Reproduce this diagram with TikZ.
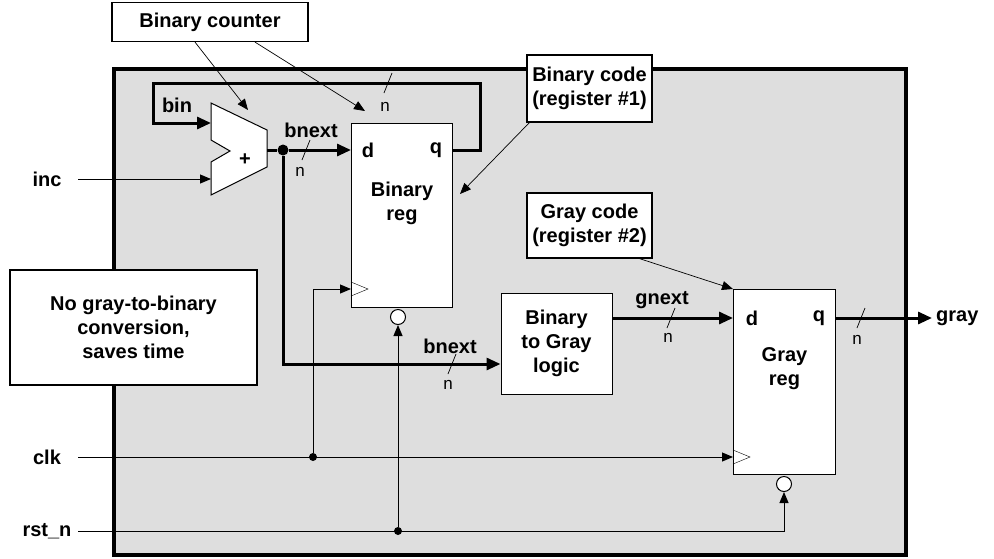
\documentclass[tikz,border=0pt]{standalone}
\usepackage{fontspec}
\setmainfont{Liberation Sans}
\usetikzlibrary{calc,arrows.meta,positioning}

\tikzset{
  txt/.style={font=\fontsize{20}{24}\selectfont\bfseries, inner sep=1pt},
  small/.style={font=\fontsize{17}{19}\selectfont, inner sep=1pt},
  note/.style={draw, fill=white, line width=1.2pt, align=center, txt, inner sep=4pt},
  reg/.style={draw, fill=white, line width=1pt, anchor=north west, minimum width=#1, inner sep=0pt},
  bus/.style={line width=3pt, -{Triangle[length=14pt,width=12pt]}},
  sig/.style={line width=1pt, -{Triangle[length=11pt,width=9pt]}},
  ptr/.style={line width=0.7pt, -{Triangle[length=11pt,width=9pt]}},
  slash/.style={line width=0.7pt},
  dot/.style={circle, fill=black, inner sep=0pt, minimum size=#1},
  bubble/.style={circle, draw, line width=1pt, fill=white, inner sep=0pt, minimum size=15pt}
}

\begin{document}
\begin{tikzpicture}[x=1pt,y=-1pt]
  \useasboundingbox (0,0) rectangle (994,558);

  %% Panel
  \draw[fill=black!13, line width=3.5pt] (114,69) rectangle (906,555);

  %% Registers and logic
  \node[reg=101pt, minimum height=184pt] (BREG) at (351,123) {};
  \node[reg=102pt, minimum height=185pt] (GREG) at (733,289) {};
  \node[draw, fill=white, line width=1pt, minimum width=111pt, minimum height=101pt,
    align=center, txt] (B2G) at (556.5,343.5) {Binary\\to Gray\\logic};
  \node[txt] at ($(BREG.north west)+(17,27)$) {d};
  \node[txt] at ($(BREG.north east)+(-17,27)$) {q};
  \node[txt, align=center] at ($(BREG.north)+(0,80)$) {Binary\\reg};
  \node[txt] at ($(GREG.north west)+(19,29)$) {d};
  \node[txt] at ($(GREG.north east)+(-17,29)$) {q};
  \node[txt, align=center] at ($(GREG.north)+(0,80)$) {Gray\\reg};
  \draw (BREG.west |- 0,282) -- ++(17,7) -- ++(-17,7);
  \draw (GREG.west |- 0,450) -- ++(17,7) -- ++(-17,7);
  \node[bubble] (BRST) at (398,317) {};
  \node[bubble] (GRST) at (784,484) {};

  %% Adder
  \draw[fill=white, line width=1pt] (211,103) -- (267,130) -- (267,167) -- (211,195)
    -- (211,162) -- (230,151) -- (211,140) -- cycle;
  \node[txt] (ADD) at (245,160) {+};
  \coordinate (ADDin1) at (211,123);
  \coordinate (ADDin2) at (211,179);
  \coordinate (ADDout) at (267,150);

  %% Buses
  \node[dot=11pt] (BDOT) at (283,150) {};
  \coordinate (Bd) at (BREG.west |- BDOT);
  \coordinate (Bq) at (BREG.east |- BDOT);
  \draw[line width=3pt] (ADDout) -- (BDOT);
  \draw[bus] (BDOT) -- (Bd);
  \draw[bus] (Bq) -- (480,150) -- (480,83) -- (153,83) -- (153,123) -- (ADDin1);
  \draw[bus] (BDOT) |- (B2G.west |- 0,364);
  \coordinate (Gd) at (GREG.west |- 0,318);
  \draw[bus] (B2G.east |- Gd) -- (Gd);
  \coordinate (GOUT) at (932,318);
  \draw[bus] (GREG.east |- Gd) -- (GOUT);

  %% Bus labels
  \node[txt] at (177,105) {bin};
  \node[txt] at (311,130) {bnext};
  \node[txt] at (450,346) {bnext};
  \node[txt] at (662,300) {gnext};
  \node[txt, anchor=west] (GRAY) at (935,318) {gray};
  \foreach \x/\y/\nx/\ny in {388/83/385/107, 306/150/300/172, 452/364/448/385,
                             671/318/668/338, 861/318/857/340}
  {
    \draw[slash] (\x+4,\y-10) -- (\x-4,\y+10);
    \node[small] at (\nx,\ny) {n};
  }

  %% Inputs
  \node[txt] (INC) at (47,179) {inc};
  \node[txt] (CLK) at (47,457) {clk};
  \node[txt] (RST) at (47,531) {rst\_n};
  \draw[sig] (78,179) -- (ADDin2);
  \node[dot=8pt] (CDOT) at (313,457) {};
  \node[dot=8pt] (RDOT) at (398,531) {};
  \draw[sig] (78,457) -- (GREG.west |- CDOT);
  \draw[sig] (CDOT) |- (BREG.west |- 0,289);
  \draw[sig] (78,531) -| (GRST);
  \draw[sig] (RDOT) -- (BRST);

  %% Notes
  \node[note, minimum width=196pt, minimum height=39pt] (CNT) at (210,22) {Binary counter};
  \node[note, minimum width=125pt, minimum height=67pt] (BCODE) at (589.5,88.5)
    {Binary code\\(register \#1)};
  \node[note, minimum width=125pt, minimum height=65pt] (GCODE) at (589.5,225.5)
    {Gray code\\(register \#2)};
  \node[note, minimum width=247pt, minimum height=115pt] (NOTE) at (133.5,327.5)
    {No gray-to-binary\\conversion,\\saves time};
  \draw[ptr] ($(CNT.south)+(-15,0)$) -- (248,110);
  \draw[ptr] ($(CNT.south)+(45,0)$) -- (365,111);
  \draw[ptr] ($(BCODE.south west)+(3,0)$) -- (460,194);
  \draw[ptr] ($(GCODE.south)+(50,0)$) -- (GREG.north west);
\end{tikzpicture}
\end{document}
